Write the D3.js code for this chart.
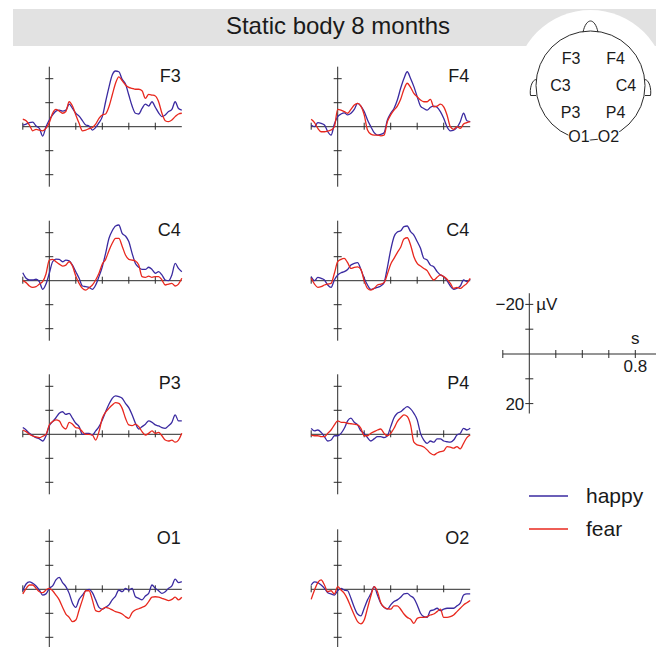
<!DOCTYPE html>
<html>
<head>
<meta charset="utf-8">
<script src="https://cdn.jsdelivr.net/npm/d3@7"></script>
<style>
  body { margin: 0; background: #fff; }
  svg text { font-family: "Liberation Sans", Arial, sans-serif; fill: #1a1a1a; }
</style>
</head>
<body>
<svg id="chart" width="656" height="647"></svg>
<script>
// sample times, -0.2 .. 1.0 s every 25 ms
var times = d3.range(49).map(function(i) { return -0.2 + i * 0.025; });

// channel names, in panel order (left/right, top to bottom)
var channels = ["F3", "F4", "C4", "C4", "P3", "P4", "O1", "O2"];

// happy condition, µV (negative plotted upward)
var happyF3 = [-0.7,-1.1,-1.7,-1.9,-0.3,0.7,3.9,0,-2.8,-4.9,-6.5,-6.9,-6.5,-6.9,-9.4,-7.6,-5.6,-4.4,-2.5,-0.7,-0.3,1.4,0.3,-1.7,-4.2,-10.4,-16.4,-21.5,-23.2,-22.9,-19.7,-17.8,-13.2,-8.6,-5.6,-5.3,-7.6,-9.4,-8.6,-10.4,-8.1,-5.8,-4.2,-4.9,-6.3,-7.2,-10.4,-7.6,-6.9];
var happyF4 = [-0.7,0,-1.7,-1.4,-0.7,2.1,3.5,-1.1,-4.2,-5.3,-5.8,-4.9,-5.6,-7.2,-9.7,-8.6,-6.3,-2.8,0,2.5,3.5,3.2,2.5,-2.8,-5.6,-7.6,-11.1,-16,-20.1,-22.9,-20.1,-16.7,-12.5,-8.6,-7.6,-6.9,-8.1,-8.6,-8.1,-6.3,-3.5,0,1.7,1.4,0.3,-2.1,-5.6,-2.5,-2.1];
var happyC4L = [-3.3,-1,-0.3,-0.3,-0.6,0.4,3.6,1.4,-3.1,-7.9,-9,-8.9,-7.9,-8.6,-8.3,-6.5,-3.75,-1,2.2,2.5,2.8,3.6,1.8,-1.7,-5.8,-11.4,-17.6,-20.8,-22.8,-23.2,-19.7,-18.6,-16.3,-11.4,-7.2,-5.6,-4.7,-4.7,-5.6,-4.7,-3.1,-3.75,-2.4,-0.3,0,-2.4,-7.2,-5.1,-3.75];
var happyC4R = [-1.7,0,-1.4,-1,-0.3,1.8,2.8,-0.3,-2.4,-3.3,-3.75,-4.7,-6.5,-7.2,-7.5,-4.7,-1,1.8,3.6,3.2,2.8,2.2,0.8,-5.6,-12.8,-18.3,-20.3,-20.8,-22.5,-22.8,-20.4,-19,-16.3,-13.5,-9.3,-8.6,-6.5,-5.8,-3.75,-2.4,-1.7,0,2.2,3.6,3.1,2.2,-0.3,0.4,-0.6];
var happyP3 = [-2.8,-1.8,-0.4,0.6,1.4,1.9,2.8,0.6,-3.6,-5.3,-6.9,-8.75,-9.4,-8.3,-8.75,-6.7,-4.6,-3.2,0,-0.4,-0.4,0.3,-1.4,-3.2,-6,-9.4,-12.5,-15,-16,-15.7,-15,-12.9,-11.1,-8.1,-4.6,-2.2,-3.2,-4.2,-5.6,-5,-3.9,-3.5,-2.8,-2.5,-3.6,-5,-8.1,-5.6,-5.6];
var happyP4 = [-2.5,-1.4,-1.8,-0.8,1,2.8,2.4,0.6,0.6,-0.4,-2.5,-5.6,-6.7,-5,-3.9,-1.4,-0.4,1.4,2.8,1.9,1,1,1.4,0.6,-3.2,-6.9,-8.75,-9.4,-10.6,-11.5,-10.6,-8.75,-6,-0.4,2.4,3.75,2.8,3.3,1.9,1.9,2.8,3.1,3.3,2.4,0.3,-0.4,-2.5,-1.8,-2.5];
var happyO1 = [0.6,-2.2,-3.1,-2.5,-1.4,0.3,2.4,1.9,-0.4,-1.4,-3.9,-5,-2.8,-1.1,1.7,5.8,7.5,4.2,2.4,0.6,0,1.4,4.4,7.5,8.3,7.5,6.5,4.4,2.8,0.3,1,-0.4,0.3,-0.4,3.1,3.75,4.4,2.8,1.7,-1.8,-0.4,0.6,1.7,1,-0.4,-1.4,-4.2,-2.8,-3.2];
var happyO2 = [-1.8,-3.1,-2.8,-1.8,-0.4,1.4,1.9,2.4,0.6,-0.4,0.3,0.6,3.75,7.5,10.3,11.1,7.9,4.4,1.9,-1.1,2.4,5.8,7.5,8.3,6.5,5.1,4.4,3.3,1.9,1.7,2.8,3.75,6.5,10,11.4,11.7,8.9,8.6,7.9,8.9,8.3,7.9,7.9,7.9,6.9,5.8,2.4,1.9,1.9];

// fear condition, µV
var fearF3 = [-3.1,-2.5,-0.7,1.7,1.1,1.4,1.7,0.7,-1.7,-5.6,-7.2,-6.5,-5.6,-6.3,-10.4,-8.6,-4.9,-1.4,1.7,1.4,0.8,0.3,-1.1,-3.5,-4.9,-5.3,-8.3,-13.2,-18.1,-20.8,-19.2,-17.4,-16.4,-16,-15.6,-15.6,-15,-11.8,-13.5,-13.2,-12.8,-10.4,-5.6,-2.5,-2.1,-2.8,-4.2,-5.3,-5.6];
var fearF4 = [-3.1,-1.7,0.7,2.1,2.1,1.8,1.4,0,-7.2,-6.9,-6.3,-5.6,-7.2,-9,-9.7,-8.6,-4.9,1.4,3.1,3.5,3.5,3.8,3.5,-2.1,-4.9,-6.9,-8.6,-11.4,-15.6,-18.1,-16.4,-13.9,-12.5,-11.1,-10.4,-10.4,-11.4,-8.3,-8.6,-9.4,-8.3,-4.9,0,1.1,0,0.7,-1.1,-1.7,-2.1];
var fearC4L = [0,0.8,2.2,2.8,2.5,1.4,0.4,-2.8,-8.6,-8.9,-7.9,-6.9,-6.1,-6.5,-7.9,-6.1,-1.9,1.1,3.2,3.9,2.9,1.8,-0.3,-3.1,-6.9,-8.9,-12.5,-15.6,-17.6,-17.6,-14.4,-10.7,-8.9,-8.6,-8.2,-6.5,-1.7,-1.4,-1.9,-1.4,-1.7,-1.7,-0.3,1.8,1.4,1.1,2.2,1.4,-1];
var fearC4R = [-1,1.4,2.8,2.5,1.8,1.4,1.1,-3.1,-7.9,-8.9,-9.3,-7.5,-5.1,-5.6,-5.8,-4.7,0,3.2,3.9,3.2,1.8,1.4,0.8,-2.8,-6.9,-9.3,-11.7,-13.9,-17.4,-17.9,-14.9,-10,-7.2,-6.1,-5.1,-4.2,-1.9,-0.3,-1.4,-2.4,-1.7,-0.6,1.1,3.2,2.8,3.2,2.2,1.1,-1];
var fearP3 = [-1.8,-1.1,0,0.7,1.1,1.4,0.8,0,-3.9,-5.3,-6,-5.6,-3.2,-2.2,-5,-4.2,-2.8,-2.5,-1.1,0,0,0.3,2.4,-1.1,-6.7,-9.2,-10.8,-12.2,-13.2,-12.9,-10.8,-6.7,-3.9,-3.6,-4.2,-3.2,-1.1,0.3,-0.4,-1.4,-0.4,-0.8,0.6,2.4,2.8,2.4,3.3,2.4,-0.4];
var fearP4 = [0.3,0.6,0.6,1,1,-0.4,-1.8,-3.9,-5.6,-5,-5,-4.6,-4.4,-4.2,-3.9,-2.5,0.6,0.6,-0.4,-1.1,-1.8,-2.2,-0.4,0.6,-0.4,-2.5,-5.3,-6.9,-8.1,-7.4,-3.9,3.3,4.4,4.7,5.3,6.5,7.9,8.6,7.8,7.2,6.9,5.1,5.3,5.8,5.1,6.1,3.75,1.4,0.3];
var fearO1 = [1.9,-0.3,-1.8,-1.8,-0.4,1,1.4,0.3,-0.4,0.6,2.4,4.4,7.5,10.3,11.7,13.5,12.8,8.6,4.4,0.6,0.6,4.4,8.9,9.3,8.3,7.5,7.9,8.6,9.3,9.7,10.3,11.4,12.1,9.7,8.6,8.1,7.5,6.9,5.1,3.3,3.1,3.3,3.75,4.2,4.7,4.2,3.3,4.4,3.3];
var fearO2 = [4.2,0.3,-2.8,-3.9,-1.8,1,0.6,1.9,-1.1,0.3,1.7,4.2,7.5,10.7,13.5,14.4,12.8,7.9,2.8,-1.1,1,5.6,7.5,8.1,8.3,6.9,6.9,8.3,10.3,11.7,12.5,14.2,12.1,11.7,11.7,11.4,10.7,10.3,9.3,8.3,11.7,11.7,11.4,10.7,9.3,7.9,6.5,5.6,4.7];

var happySeries = [happyF3, happyF4, happyC4L, happyC4R, happyP3, happyP4, happyO1, happyO2];
var fearSeries = [fearF3, fearF4, fearC4L, fearC4R, fearP3, fearP4, fearO1, fearO2];

var xTicks = [-0.2, 0, 0.2, 0.4, 0.6, 0.8];
var yTicks = [-20, -10, 10, 20];

var headLabels = ["F3", "F4", "C3", "C4", "P3", "P4", "O1", "O2"];
var legendNames = ["happy", "fear"];

var title = "Static body 8 months";

var colors = { happy: "#3a2aa0", fear: "#e8281e" };
var axisColor = "#2b2b2b";

var svg = d3.select("#chart");

// title bar
svg.append("rect")
  .attr("x", 13).attr("y", 9)
  .attr("width", 643).attr("height", 37)
  .attr("fill", "#e2e2e2");

svg.append("text")
  .attr("x", 338).attr("y", 34)
  .attr("text-anchor", "middle")
  .attr("font-size", 24)
  .text(title);

// head map
var head = { cx: 590.5, cy: 85.5, r: 54.5 };

svg.append("circle")
  .attr("cx", head.cx).attr("cy", head.cy).attr("r", 75.5)
  .attr("fill", "#fff");

var hg = svg.append("g").attr("fill", "none").attr("stroke", axisColor).attr("stroke-width", 1);

hg.append("path")
  .attr("d", "M" + (head.cx - 7.5) + "," + (head.cy - head.r + 1.2) +
    " C" + (head.cx - 6) + "," + (head.cy - head.r - 6) + " " + (head.cx - 3) + "," + (head.cy - head.r - 10) + " " + head.cx + "," + (head.cy - head.r - 10) +
    " C" + (head.cx + 3) + "," + (head.cy - head.r - 10) + " " + (head.cx + 6) + "," + (head.cy - head.r - 6) + " " + (head.cx + 7.5) + "," + (head.cy - head.r + 1.2));

[-1, 1].forEach(function(s) {
  var ex = head.cx + s * (head.r - 0.5);
  hg.append("path")
    .attr("d", "M" + ex + "," + (head.cy - 6) +
      " C" + (ex + s * 5) + "," + (head.cy - 6) + " " + (ex + s * 7) + "," + (head.cy + 4) + " " + (ex + s * 6) + "," + (head.cy + 10) +
      " L" + (ex + s * 0.5) + "," + (head.cy + 10));
});

hg.append("circle")
  .attr("cx", head.cx).attr("cy", head.cy).attr("r", head.r);

var headPos = [[-19.5, -21.2], [25, -21.2], [-30, 5.5], [35.5, 5.5], [-20, 32.8], [25, 32.8], [-11.5, 56], [18, 56]];

var hl = svg.append("g").selectAll("g")
  .data(headLabels)
  .enter().append("g");

hl.append("text")
  .attr("x", function(d, i) { return head.cx + headPos[i][0]; })
  .attr("y", function(d, i) { return head.cy + headPos[i][1]; })
  .attr("text-anchor", "middle")
  .attr("font-size", 16)
  .text(function(d) { return d; });

// white boxes behind the occipital labels so the outline stops at them
hl.filter(function(d) { return d[0] === "O"; }).each(function() {
  var t = d3.select(this).select("text");
  var b = t.node().getBBox();
  d3.select(this).insert("rect", "text")
    .attr("x", b.x).attr("y", b.y + 2)
    .attr("width", b.width).attr("height", b.height - 5)
    .attr("fill", "#fff");
});

// ERP panels
var colX = [49.3, 337.7];
var rowY = [126.7, 280.7, 434.3, 589.3];
var pxPerStep = 26.5; // px per 0.2 s

function panel(x0, y0, ch, happy, fear) {
  var x = d3.scaleLinear().domain([-0.2, 1.0]).range([x0 - pxPerStep, x0 + 5 * pxPerStep]);
  var y = d3.scaleLinear().domain([-25, 25]).range([y0 - 60, y0 + 60]);
  var g = svg.append("g");

  var ax = g.append("g").attr("stroke", axisColor).attr("stroke-width", 1);
  ax.append("line")
    .attr("x1", x(-0.2)).attr("x2", x(1.0)).attr("y1", y(0)).attr("y2", y(0));
  ax.append("line")
    .attr("x1", x(0)).attr("x2", x(0)).attr("y1", y(-25)).attr("y2", y(25));
  ax.selectAll(".xt").data(xTicks.filter(function(t) { return t !== 0; }))
    .enter().append("line")
    .attr("x1", function(d) { return x(d); }).attr("x2", function(d) { return x(d); })
    .attr("y1", y(0) - 4).attr("y2", y(0) + 3);
  ax.selectAll(".yt").data(yTicks)
    .enter().append("line")
    .attr("x1", x(0) - 4).attr("x2", x(0) + 4)
    .attr("y1", function(d) { return y(d); }).attr("y2", function(d) { return y(d); });

  var line = d3.line()
    .x(function(d, i) { return x(times[i]); })
    .y(function(d) { return y(d); })
    .curve(d3.curveMonotoneX);

  g.append("path").datum(happy)
    .attr("d", line).attr("fill", "none")
    .attr("stroke", colors.happy).attr("stroke-width", 1.3);
  g.append("path").datum(fear)
    .attr("d", line).attr("fill", "none")
    .attr("stroke", colors.fear).attr("stroke-width", 1.3);

  g.append("text")
    .attr("x", x(1.0) - 1).attr("y", y0 - 45)
    .attr("text-anchor", "end")
    .attr("font-size", 18)
    .text(ch);
}

channels.forEach(function(ch, i) {
  panel(colX[i % 2], rowY[Math.floor(i / 2)], ch, happySeries[i], fearSeries[i]);
});

// scale bar
(function() {
  var x0 = 529.3, y0 = 354;
  var x = d3.scaleLinear().domain([-0.2, 1.0]).range([x0 - pxPerStep, x0 + 5 * pxPerStep]);
  var y = d3.scaleLinear().domain([-25, 25]).range([y0 - 62, y0 + 62]);
  var g = svg.append("g");
  var ax = g.append("g").attr("stroke", axisColor).attr("stroke-width", 1);
  ax.append("line").attr("x1", x(-0.2)).attr("x2", x(1.0)).attr("y1", y0).attr("y2", y0);
  ax.append("line").attr("x1", x0).attr("x2", x0).attr("y1", y(-24.5)).attr("y2", y(24));
  ax.selectAll(".xt").data(xTicks.filter(function(t) { return t !== 0; }))
    .enter().append("line")
    .attr("x1", function(d) { return x(d); }).attr("x2", function(d) { return x(d); })
    .attr("y1", y0 - 4).attr("y2", y0 + 4);
  ax.selectAll(".yt").data(yTicks)
    .enter().append("line")
    .attr("x1", x0 - 4).attr("x2", x0 + 4)
    .attr("y1", function(d) { return y(d); }).attr("y2", function(d) { return y(d); });

  g.append("text").attr("x", x0 - 5).attr("y", y(-20) + 6)
    .attr("text-anchor", "end").attr("font-size", 17).text("\u221220");
  g.append("text").attr("x", x0 + 7).attr("y", y(-20) + 6)
    .attr("font-size", 17).text("\u00b5V");
  g.append("text").attr("x", x0 - 5).attr("y", y(20) + 6)
    .attr("text-anchor", "end").attr("font-size", 17).text("20");
  g.append("text").attr("x", x(0.8)).attr("y", y0 - 10)
    .attr("text-anchor", "middle").attr("font-size", 17).text("s");
  g.append("text").attr("x", x(0.8)).attr("y", y0 + 18)
    .attr("text-anchor", "middle").attr("font-size", 17).text("0.8");
})();

// legend
var lg = svg.append("g").selectAll("g")
  .data(legendNames)
  .enter().append("g")
  .attr("transform", function(d, i) { return "translate(0," + (496 + i * 33) + ")"; });

lg.append("line")
  .attr("x1", 529).attr("x2", 568)
  .attr("stroke", function(d) { return colors[d]; })
  .attr("stroke-width", 1.3);

lg.append("text")
  .attr("x", 586).attr("y", 7)
  .attr("font-size", 21)
  .text(function(d) { return d; });
</script>
</body>
</html>
